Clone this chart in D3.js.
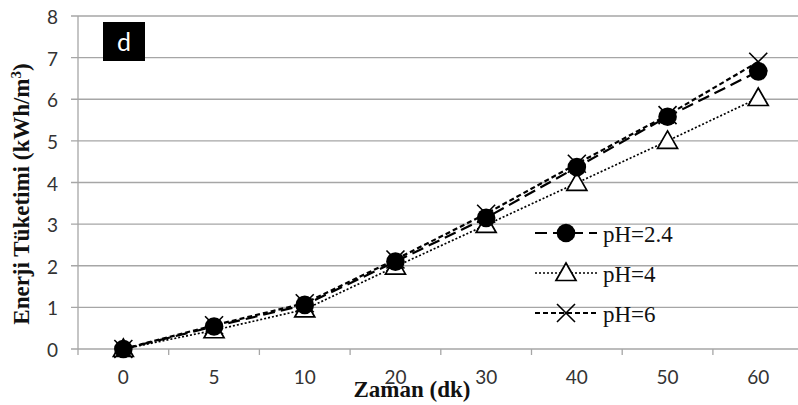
<!DOCTYPE html>
<html>
<head>
<meta charset="utf-8">
<script src="https://cdn.jsdelivr.net/npm/d3@7"></script>
<style>
  html, body { margin: 0; padding: 0; background: #fff; }
  svg { display: block; }
</style>
</head>
<body>
<svg id="chart" width="798" height="405"></svg>
<script>
// Zaman (dk) categories and energy consumption per pH
const categories = ["0", "5", "10", "20", "30", "40", "50", "60"];
const ph24 = [0, 0.54, 1.06, 2.10, 3.15, 4.37, 5.58, 6.67];
const ph4  = [0, 0.45, 0.95, 1.98, 2.98, 3.99, 5.00, 6.03];
const ph6  = [0, 0.57, 1.10, 2.15, 3.25, 4.45, 5.62, 6.90];
const yTicks = [0, 1, 2, 3, 4, 5, 6, 7, 8];

const series = [
  { name: "pH=2.4", values: ph24, dash: "12,6", marker: "circle", width: 2.2 },
  { name: "pH=4",   values: ph4,  dash: "2,2",  marker: "triangle", width: 1.7 },
  { name: "pH=6",   values: ph6,  dash: "5,3",  marker: "cross", width: 2.2 }
];

const svg = d3.select("#chart");
const plotLeft = 78, plotTop = 16, plotBottom = 349, bandW = 90.7;

const x = d3.scaleBand().domain(categories)
  .range([plotLeft, plotLeft + bandW * categories.length]).padding(0);
const y = d3.scaleLinear().domain([0, 8]).range([plotBottom, plotTop]);
const cx = c => x(c) + x.bandwidth() / 2;

// horizontal gridlines
svg.append("g").selectAll("line").data(yTicks).join("line")
  .attr("x1", plotLeft - 7).attr("x2", 798)
  .attr("y1", d => y(d)).attr("y2", d => y(d))
  .attr("stroke", "#a6a6a6").attr("stroke-width", 1.3);

// y axis line
svg.append("line").attr("x1", plotLeft).attr("x2", plotLeft)
  .attr("y1", plotTop).attr("y2", plotBottom)
  .attr("stroke", "#a6a6a6").attr("stroke-width", 1.3);

// x category ticks at band edges
const edges = categories.map(c => x(c)).concat([x(categories[categories.length - 1]) + x.bandwidth()]);
svg.append("g").selectAll("line").data(edges).join("line")
  .attr("x1", d => d).attr("x2", d => d)
  .attr("y1", plotBottom).attr("y2", plotBottom + 6)
  .attr("stroke", "#a6a6a6").attr("stroke-width", 1.3);

// y tick labels
svg.append("g").selectAll("text").data(yTicks).join("text")
  .attr("x", 58).attr("y", d => y(d) + 8)
  .attr("text-anchor", "end")
  .attr("font-family", "Lato, 'Open Sans', sans-serif")
  .attr("font-size", 19).attr("fill", "#333")
  .text(d => d);

// x tick labels
svg.append("g").selectAll("text").data(categories).join("text")
  .attr("x", d => cx(d)).attr("y", 384)
  .attr("text-anchor", "middle")
  .attr("font-family", "Lato, 'Open Sans', sans-serif")
  .attr("font-size", 19).attr("fill", "#333")
  .text(d => d);

// axis titles
svg.append("text")
  .attr("transform", "translate(29,194) rotate(-90)")
  .attr("text-anchor", "middle")
  .attr("font-family", "'Liberation Serif', 'Times New Roman', serif")
  .attr("font-weight", "bold").attr("font-size", 23).attr("fill", "#111")
  .html('Enerji Tüketimi (kWh/m<tspan baseline-shift="super" font-size="15">3</tspan>)');

svg.append("text")
  .attr("x", 412).attr("y", 397)
  .attr("text-anchor", "middle")
  .attr("font-family", "'Liberation Serif', 'Times New Roman', serif")
  .attr("font-weight", "bold").attr("font-size", 23).attr("fill", "#111")
  .text("Zaman (dk)");

// panel label
svg.append("rect").attr("x", 103).attr("y", 22).attr("width", 42).attr("height", 39).attr("fill", "#000");
svg.append("text").attr("x", 124).attr("y", 51).attr("text-anchor", "middle")
  .attr("font-family", "Lato, 'Open Sans', sans-serif")
  .attr("font-size", 25).attr("fill", "#fff").text("d");

// marker drawing
function drawMarker(g, type, px, py) {
  if (type === "circle") {
    g.append("circle").attr("cx", px).attr("cy", py).attr("r", 9.3).attr("fill", "#000");
  } else if (type === "triangle") {
    const s = 10;
    g.append("path")
      .attr("d", `M${px},${py - s} L${px + s},${py + s * 0.75} L${px - s},${py + s * 0.75} Z`)
      .attr("fill", "#fff").attr("stroke", "#000").attr("stroke-width", 1.7);
  } else {
    const s = 9;
    g.append("path")
      .attr("d", `M${px - s},${py - s} L${px + s},${py + s} M${px + s},${py - s} L${px - s},${py + s}`)
      .attr("fill", "none").attr("stroke", "#000").attr("stroke-width", 1.6);
  }
}

const line = d3.line().x(d => cx(d.c)).y(d => y(d.v));

// draw order: triangles underneath, then crosses, filled circles on top
[series[1], series[2], series[0]].forEach(s => {
  const pts = categories.map((c, i) => ({ c, v: s.values[i] }));
  svg.append("path").datum(pts)
    .attr("d", line).attr("fill", "none")
    .attr("stroke", "#000").attr("stroke-width", s.width)
    .attr("stroke-dasharray", s.dash);
  const g = svg.append("g");
  pts.forEach(p => drawMarker(g, s.marker, cx(p.c), y(p.v)));
});

// legend
const legendY = [233, 273, 313];
series.forEach((s, i) => {
  const ly = legendY[i];
  const g = svg.append("g");
  g.append("line").attr("x1", 535).attr("x2", 597).attr("y1", ly).attr("y2", ly)
    .attr("stroke", "#000").attr("stroke-width", s.width)
    .attr("stroke-dasharray", s.dash);
  drawMarker(g, s.marker, 566, ly);
  g.append("text").attr("x", 603).attr("y", ly + 9)
    .attr("font-family", "'Liberation Serif', 'Times New Roman', serif")
    .attr("font-size", 23).attr("fill", "#111").text(s.name);
});
</script>
</body>
</html>
